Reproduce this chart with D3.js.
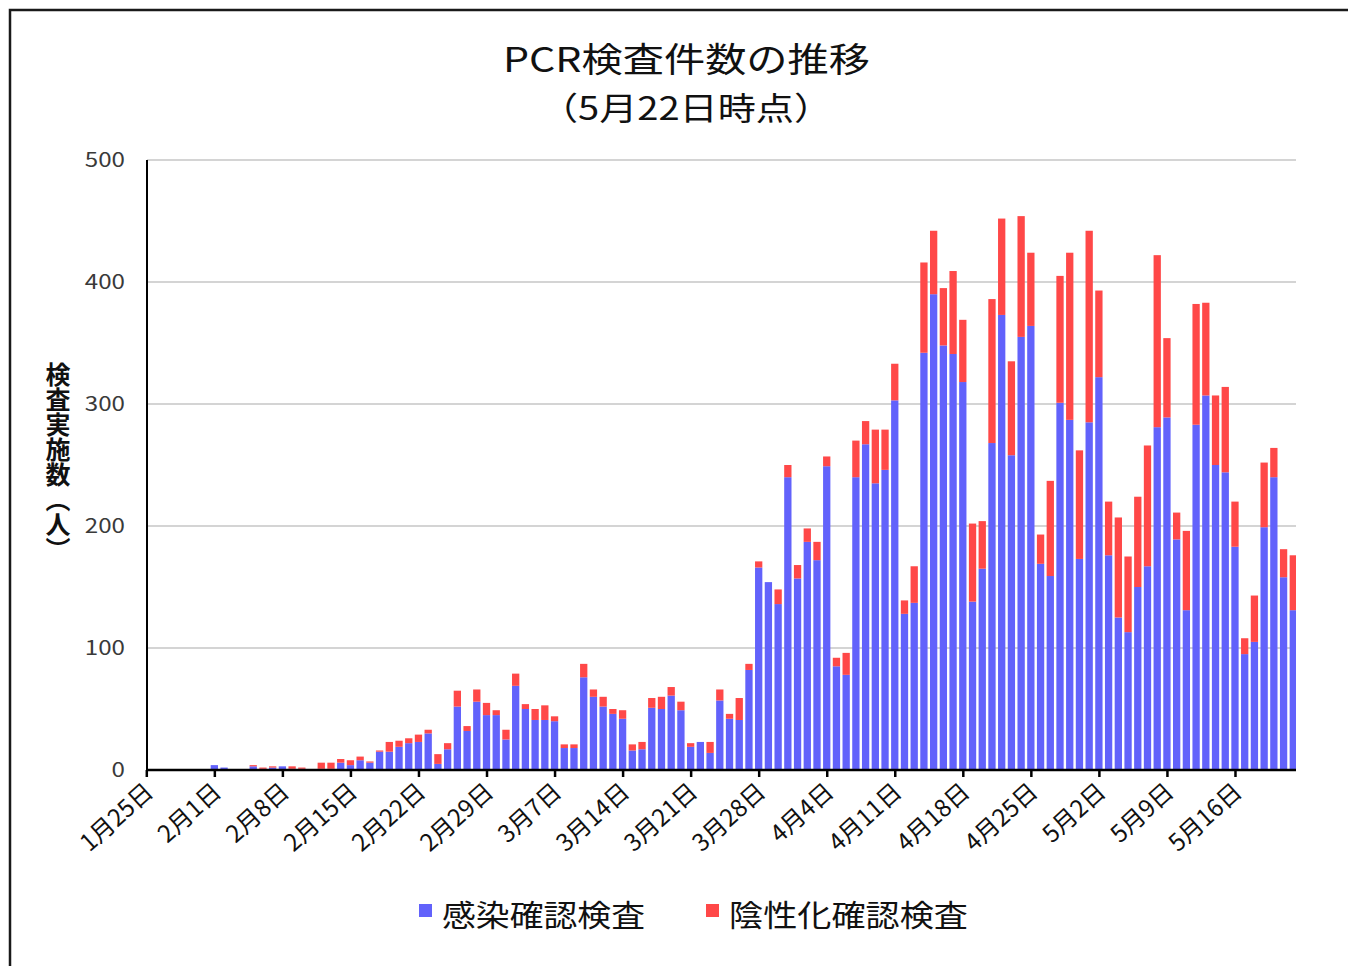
<!DOCTYPE html>
<html>
<head>
<meta charset="utf-8">
<script src="https://cdn.jsdelivr.net/npm/d3@7"></script>
<style>
  body { margin: 0; background: #fff; }
  svg { display: block; }
  text { font-family: "Noto Sans CJK JP", "Liberation Sans", sans-serif; }
</style>
</head>
<body>
<script>
// 1月25日 から 5月22日 までの日別件数
var startDay = new Date(2020, 0, 25);
var endDay = new Date(2020, 4, 22);
var days = d3.timeDay.range(startDay, d3.timeDay.offset(endDay, 1));

var seriesNames = ["感染確認検査", "陰性化確認検査"];
var seriesColors = ["#6262fb", "#ff4848"];

var infection = [
  0, 0, 0, 0, 0, 0, 0, 4, 2, 0, 0, 3, 1, 2,
  3, 1, 1, 0, 1, 1, 6, 4, 8, 6, 15, 15, 19, 22,
  23, 30, 5, 17, 52, 32, 56, 45, 45, 25, 69, 50, 41, 41,
  40, 18, 18, 76, 60, 52, 46, 42, 16, 17, 51, 50, 61, 49,
  19, 23, 14, 57, 42, 41, 82, 166, 154, 136, 240, 157, 187, 172,
  249, 85, 78, 240, 267, 235, 246, 303, 128, 137, 342, 390, 348, 341,
  318, 138, 165, 268, 373, 258, 355, 364, 169, 159, 301, 287, 173, 285,
  322, 176, 125, 113, 150, 167, 281, 289, 189, 131, 283, 307, 250, 244,
  183, 95, 105, 199, 240, 158, 131
];
var negative = [
  0, 0, 0, 0, 0, 0, 0, 0, 0, 0, 0, 1, 1, 1,
  0, 2, 1, 0, 5, 5, 3, 4, 3, 1, 1, 8, 5, 4,
  6, 3, 8, 5, 13, 4, 10, 10, 4, 8, 10, 4, 9, 12,
  4, 3, 3, 11, 6, 8, 4, 7, 5, 6, 8, 10, 7, 7,
  3, 0, 9, 9, 4, 18, 5, 5, 0, 12, 10, 11, 11, 15,
  8, 7, 18, 30, 19, 44, 33, 30, 11, 30, 74, 52, 47, 68,
  51, 64, 39, 118, 79, 77, 99, 60, 24, 78, 104, 137, 89, 157,
  71, 44, 82, 62, 74, 99, 141, 65, 22, 65, 99, 76, 57, 70,
  37, 13, 38, 53, 24, 23, 45
];
var yTicks = [0, 100, 200, 300, 400, 500];

var rows = days.map(function (d, i) {
  return { date: d, a: infection[i], b: negative[i] };
});

var width = 1348, height = 966;
var plotLeft = 147, plotRight = 1296, plotTop = 160, plotBottom = 770;

var svg = d3.select("body").append("svg")
  .attr("width", width).attr("height", height);

svg.append("rect")
  .attr("x", 10).attr("y", 10)
  .attr("width", 1400).attr("height", 1000)
  .attr("fill", "#fff").attr("stroke", "#1a1a1a").attr("stroke-width", 2.5);

var x = d3.scaleTime().domain([startDay, endDay]).range([146.3, 1293.3]);
var y = d3.scaleLinear().domain([0, 500]).range([plotBottom, plotTop]);

// grid
svg.append("g").selectAll("line")
  .data(yTicks.slice(1))
  .enter().append("line")
  .attr("x1", plotLeft).attr("x2", plotRight)
  .attr("y1", function (d) { return y(d); })
  .attr("y2", function (d) { return y(d); })
  .attr("stroke", "#d4d4d4").attr("stroke-width", 2);

svg.append("clipPath").attr("id", "plot")
  .append("rect").attr("x", plotLeft).attr("y", plotTop - 10)
  .attr("width", plotRight - plotLeft).attr("height", plotBottom - plotTop + 10);

var stacked = d3.stack().keys(["a", "b"])(rows);
var barW = 7.3;

svg.append("g").attr("clip-path", "url(#plot)")
  .selectAll("g")
  .data(stacked)
  .enter().append("g")
  .attr("fill", function (d, i) { return seriesColors[i]; })
  .selectAll("rect")
  .data(function (d) { return d; })
  .enter().append("rect")
  .attr("x", function (d) { return x(d.data.date) - barW / 2; })
  .attr("width", barW)
  .attr("y", function (d) { return y(d[1]); })
  .attr("height", function (d) { return y(d[0]) - y(d[1]); });

// y axis
var yAxis = svg.append("g")
  .attr("transform", "translate(" + plotLeft + ",0)")
  .call(d3.axisLeft(y).tickValues(yTicks).tickSize(0).tickPadding(22));
yAxis.select(".domain").remove();
yAxis.selectAll("text")
  .attr("font-size", 20)
  .attr("fill", "#3a3a3a")
  .attr("font-family", "Liberation Sans, Arial, sans-serif")
  .attr("textLength", function (d) { return String(d).length * 13.4; })
  .attr("lengthAdjust", "spacingAndGlyphs");
svg.append("line")
  .attr("x1", plotLeft).attr("x2", plotLeft)
  .attr("y1", plotTop).attr("y2", plotBottom + 1)
  .attr("stroke", "#000").attr("stroke-width", 2);

// x axis
var tickDays = days.filter(function (d, i) { return i % 7 === 0; });
var xAxis = svg.append("g")
  .attr("transform", "translate(0," + plotBottom + ")")
  .call(d3.axisBottom(x)
    .tickValues(tickDays)
    .tickSize(7)
    .tickFormat(function (d) { return (d.getMonth() + 1) + "月" + d.getDate() + "日"; }));
xAxis.select(".domain").remove();
xAxis.selectAll(".tick line").attr("stroke", "#000").attr("stroke-width", 2.5);
xAxis.selectAll("text")
  .attr("font-size", 24)
  .attr("fill", "#111")
  .attr("text-anchor", "end")
  .attr("dy", null)
  .attr("y", 0)
  .attr("transform", "translate(8,24) rotate(-42)");
svg.append("line")
  .attr("x1", plotLeft - 1).attr("x2", plotRight)
  .attr("y1", plotBottom).attr("y2", plotBottom)
  .attr("stroke", "#000").attr("stroke-width", 2.5);

// titles
svg.append("text")
  .attr("x", 503).attr("y", 72)
  .attr("font-size", 34)
  .attr("fill", "#111")
  .attr("textLength", 367).attr("lengthAdjust", "spacingAndGlyphs")
  .text("PCR検査件数の推移");
svg.append("text")
  .attr("x", 540).attr("y", 120)
  .attr("font-size", 32)
  .attr("fill", "#111")
  .attr("textLength", 292).attr("lengthAdjust", "spacingAndGlyphs")
  .text("（5月22日時点）");

svg.append("text")
  .attr("x", 58).attr("y", 462)
  .attr("font-size", 25)
  .attr("font-weight", "bold")
  .attr("fill", "#111")
  .attr("text-anchor", "middle")
  .style("writing-mode", "vertical-rl")
  .text("検査実施数（人）");

// legend
var legendX = [419, 706];
var legendW = [203, 239];
var legend = svg.append("g").selectAll("g")
  .data(seriesNames)
  .enter().append("g")
  .attr("transform", function (d, i) { return "translate(" + legendX[i] + ",904)"; });
legend.append("rect")
  .attr("width", 13).attr("height", 13)
  .attr("fill", function (d, i) { return seriesColors[i]; });
legend.append("text")
  .attr("x", 23).attr("y", 22)
  .attr("font-size", 30)
  .attr("fill", "#111")
  .attr("textLength", function (d, i) { return legendW[i]; })
  .attr("lengthAdjust", "spacingAndGlyphs")
  .text(function (d) { return d; });
</script>
</body>
</html>
